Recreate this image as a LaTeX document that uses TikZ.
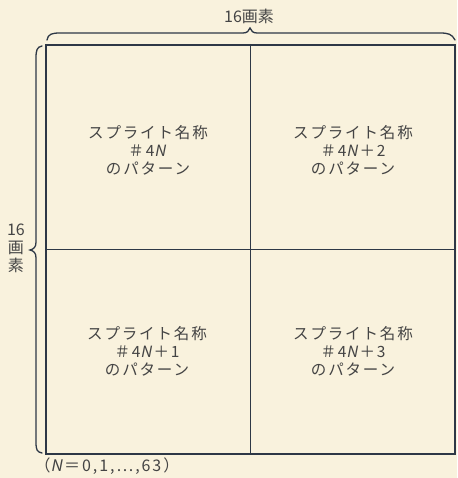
\documentclass[tikz,border=0pt]{standalone}
\usepackage{fontspec}
\setmainfont{Noto Sans CJK JP}[AutoFakeSlant=0.2]
\newfontfamily\cjk{Noto Sans CJK JP}[AutoFakeSlant=0.2]
\newfontfamily\cjkwide{Noto Sans CJK JP}[AutoFakeSlant=0.2,LetterSpace=12]
\definecolor{paper}{HTML}{F9F2DD}
\definecolor{ink}{HTML}{2E3846}
\definecolor{txt}{HTML}{444444}
\begin{document}
\begin{tikzpicture}[x=1pt,y=-1pt,
  frame/.style={draw=ink,line width=2pt},
  divline/.style={draw=ink,line width=1.8pt},
  bracepath/.style={draw=ink,line width=1.3pt,line cap=round},
  label/.style={text=txt,font=\cjk\fontsize{16}{18}\selectfont,align=center,inner sep=0pt},
  quad/.style={text=txt,font=\cjkwide\fontsize{15.5}{18}\selectfont,align=center,inner sep=0pt}]
\fill[paper] (0,0) rectangle (457,478);
\useasboundingbox (0,0) rectangle (457,478);
\node[frame,minimum width=409pt,minimum height=409pt,inner sep=0pt] (box) at (250.5,249.5) {};
\draw[divline] (box.north) -- (box.south);
\draw[divline] (box.west) -- (box.east);
% top brace
\coordinate (tb1) at (47,40);
\coordinate (tb2) at (455,40);
\draw[bracepath] (tb1) .. controls (48,34) and (52,33) .. (60,33) -- (243,33)
  .. controls (247,33) and (249,31) .. (250,28)
  .. controls (251,31) and (253,33) .. (257,33) -- (440,33)
  .. controls (448,33) and (452,34) .. (tb2);
% left brace
\coordinate (lb1) at (42,46);
\coordinate (lb2) at (42,453);
\draw[bracepath] (lb1) .. controls (37,47) and (36,50) .. (36,58) -- (36,242)
  .. controls (36,247) and (34,249) .. (30,250)
  .. controls (34,251) and (36,253) .. (36,258) -- (36,442)
  .. controls (36,450) and (37,452) .. (lb2);
\node[label] (top) at (249,16) {16画素};
\node[label] (side) at (16,248) {\baselineskip=16.5pt 16\\画\\素};
\node[quad] (q1) at (148,150) {スプライト名称\\＃4\textit{N}\\のパターン};
\node[quad] (q2) at (353,150) {スプライト名称\\＃4\textit{N}＋2\\のパターン};
\node[quad] (q3) at (147,351) {スプライト名称\\＃4\textit{N}＋1\\のパターン};
\node[quad] (q4) at (353,351) {スプライト名称\\＃4\textit{N}＋3\\のパターン};
\node[label,font=\cjkwide\fontsize{16}{18}\selectfont] (note) at (107,466) {（\textit{N}＝0,1,⋯,63）};
\end{tikzpicture}
\end{document}
